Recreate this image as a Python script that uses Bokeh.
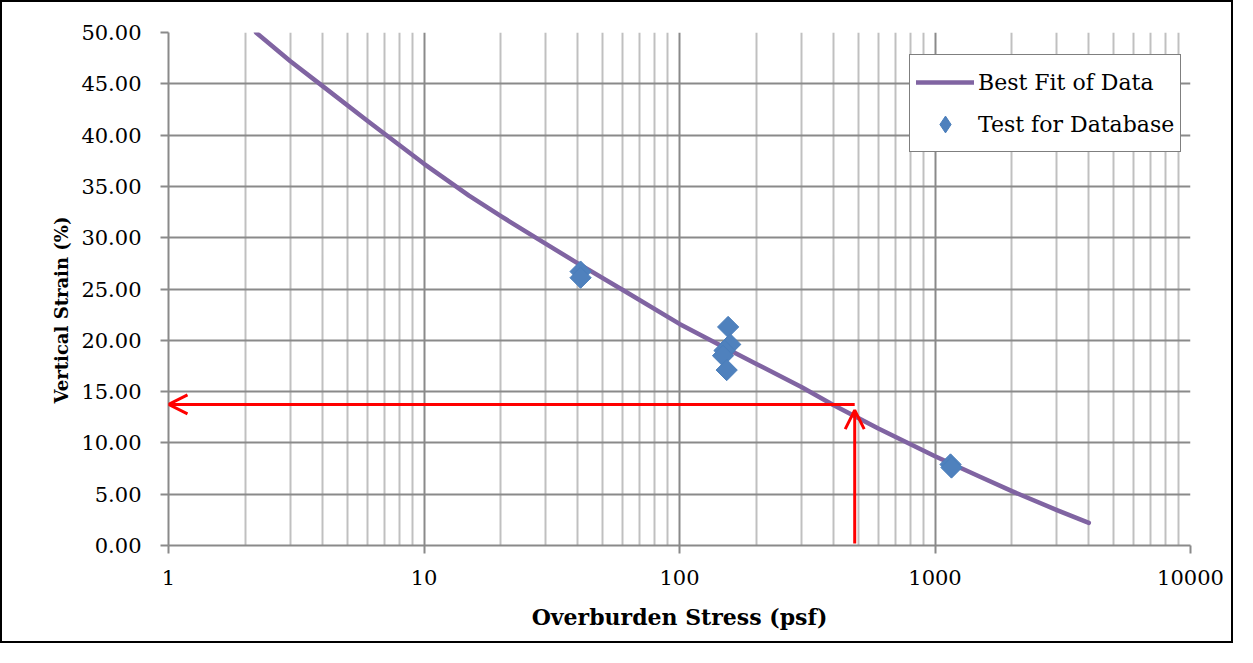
from bokeh.plotting import figure
from bokeh.models import (FixedTicker, PrintfTickFormatter, Arrow, OpenHead, Legend,
                          LegendItem, ColumnDataSource, Range1d, Title)
from bokeh.embed import file_html
from bokeh.resources import INLINE
import math

# ---- data ----
fit_x = [2.2, 3, 4, 6, 10, 15, 20, 30, 40, 60, 100, 150, 200, 300, 400, 600, 1000, 1500, 2000, 3000, 4000]
fit_y = [50.0, 47.2, 44.8, 41.4, 37.2, 34.1, 32.1, 29.4, 27.5, 24.9, 21.6, 19.3, 17.7, 15.45, 13.7, 11.4, 8.7, 6.7, 5.3, 3.45, 2.2]

test_x = [41, 41, 155, 158, 150, 148, 153, 1150, 1160]
test_y = [26.7, 26.1, 21.3, 19.6, 19.0, 18.5, 17.1, 7.9, 7.6]

x_major = [1, 10, 100, 1000, 10000]
y_major = [0, 5, 10, 15, 20, 25, 30, 35, 40, 45, 50]

read_x = 485       # design stress (psf)
read_y = 13.75     # strain (%)
arrow_base_y = 0.2
arrow_tip_y = 13.2
arrow_left_x = 1.0

x_minor = [m * d for d in [1, 10, 100, 1000] for m in range(2, 10)]

SERIF = "DejaVu Serif"
GRID_MAJOR = "#8a8a8a"
GRID_MINOR = "#c0c0c0"

p = figure(width=1233, height=643, x_axis_type="log",
           x_range=Range1d(1, 10000), y_range=Range1d(0, 50),
           output_backend="svg", toolbar_location=None,
           min_border_left=166, min_border_right=45, min_border_top=30, min_border_bottom=100,
           background_fill_color="white", border_fill_color="white")
p.styles = {"border": "2px solid black"}
p.outline_line_color = None

# axes
p.xaxis.ticker = FixedTicker(ticks=x_major, minor_ticks=x_minor)
p.xaxis.formatter = PrintfTickFormatter(format="%d")
p.yaxis.ticker = FixedTicker(ticks=y_major)
p.yaxis.formatter = PrintfTickFormatter(format="%.2f")

for ax in (p.xaxis[0], p.yaxis[0]):
    ax.axis_line_color = GRID_MAJOR
    ax.axis_line_width = 2
    ax.major_tick_line_color = GRID_MAJOR
    ax.major_tick_line_width = 2
    ax.major_tick_out = 8
    ax.major_tick_in = 0
    ax.minor_tick_out = 0
    ax.minor_tick_in = 0
    ax.major_label_text_font = SERIF
    ax.major_label_text_font_size = "21px"
    ax.major_label_text_color = "black"
    ax.axis_label_text_font = SERIF
    ax.axis_label_text_font_style = "bold"
    ax.axis_label_text_color = "black"

p.xaxis.axis_label = "Overburden Stress (psf)"
p.xaxis.axis_label_text_font_size = "22px"
p.xaxis.major_label_standoff = 16
p.xaxis.axis_label_standoff = 16
p.yaxis.major_label_standoff = 19

# y-axis title (placed like the reference, above the frame centre)
p.add_layout(Title(text="Vertical Strain (%)", align="left", offset=142,
                   text_font=SERIF, text_font_style="bold", text_font_size="18px",
                   text_color="black", standoff=14), "left")

# grids
p.xgrid.grid_line_color = GRID_MAJOR
p.xgrid.grid_line_width = 2
p.xgrid.minor_grid_line_color = GRID_MINOR
p.xgrid.minor_grid_line_width = 2
p.ygrid.grid_line_color = GRID_MAJOR
p.ygrid.grid_line_width = 2

# best fit line
fit_src = ColumnDataSource(dict(x=fit_x, y=fit_y))
fit_line = p.line("x", "y", source=fit_src, line_color="#8064A2", line_width=4.5,
                  line_cap="round", line_join="round")

# test points
test_src = ColumnDataSource(dict(x=test_x, y=test_y))
pts = p.scatter("x", "y", source=test_src, marker="square", angle=math.pi / 4, size=15,
                fill_color="#4F81BD", line_color="#4A7EBB", line_width=1)
# legend swatch for the test points (diamond); zero size so it draws nothing on the plot
pts_key = p.scatter("x", "y", source=test_src, marker="diamond", size=0,
                    fill_color="#4F81BD", line_color="#4A7EBB", line_width=1)

# red reading arrows
red_head = dict(size=19, line_color="#FF0000", line_width=3)
p.add_layout(Arrow(end=OpenHead(**red_head), x_start=read_x, y_start=read_y,
                   x_end=arrow_left_x, y_end=read_y, line_color="#FF0000", line_width=3))
p.add_layout(Arrow(end=OpenHead(**red_head), x_start=read_x, y_start=arrow_base_y,
                   x_end=read_x, y_end=arrow_tip_y, line_color="#FF0000", line_width=3))

legend = Legend(items=[LegendItem(label="Best Fit of Data", renderers=[fit_line]),
                       LegendItem(label="Test for Database", renderers=[pts_key])],
                location=(741, 393))
legend.label_text_font = SERIF
legend.label_text_font_size = "22px"
legend.label_text_color = "black"
legend.border_line_color = "black"
legend.border_line_width = 1.5
legend.background_fill_alpha = 1
legend.glyph_width = 58
legend.glyph_height = 42
legend.label_height = 42
legend.spacing = 0
legend.padding = 6
legend.margin = 0
legend.label_standoff = 4
p.add_layout(legend)

open("out.html", "w").write(file_html(p, INLINE))
